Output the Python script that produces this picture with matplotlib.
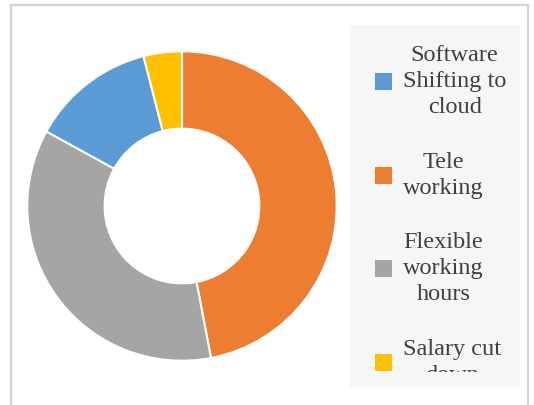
"""Donut chart of workplace responses, with a side legend panel."""

import matplotlib
matplotlib.use("Agg")
import matplotlib.pyplot as plt
from matplotlib.patches import Rectangle
from matplotlib.transforms import Bbox, TransformedBbox

# Legend order
categories = [
    "Software\nShifting to\ncloud",
    "Tele\nworking",
    "Flexible\nworking\nhours",
    "Salary cut\ndown",
]
shares = [13, 47, 36, 4]
colors = ["#5B9BD5", "#ED7D31", "#A5A5A5", "#FFC000"]
# Slice order going clockwise from 12 o'clock
draw_order = [1, 2, 0, 3]

W, H = 534, 405
TEXT = "#404040"

plt.rcParams.update({"font.family": ["Liberation Serif", "DejaVu Serif"]})

fig = plt.figure(figsize=(W / 100, H / 100), dpi=100)
fig.patch.set_facecolor("white")

# chart area border (bottom edge runs past the canvas)
fig.patches.append(Rectangle((10.5 / W, -0.05), 517 / W, (H - 5) / H + 0.05,
                             transform=fig.transFigure, fill=False,
                             edgecolor="#d4d4d4", linewidth=1.6))

# donut
cx, cy, r = 182, 206, 155.5
ax = fig.add_axes([(cx - r) / W, (H - cy - r) / H, 2 * r / W, 2 * r / H])
ax.pie([shares[i] for i in draw_order],
       colors=[colors[i] for i in draw_order],
       startangle=90, counterclock=False, radius=1.0,
       wedgeprops=dict(width=0.5, edgecolor="white", linewidth=1.5))
ax.set_xlim(-1.005, 1.005)
ax.set_ylim(-1.005, 1.005)
ax.set_aspect("equal")
ax.axis("off")

# legend panel, in pixel-like coordinates
lx0, lx1, ly0, ly1 = 350, 520, 25, 387
lax = fig.add_axes([lx0 / W, (H - ly1) / H, (lx1 - lx0) / W, (ly1 - ly0) / H])
lax.set_xlim(lx0, lx1)
lax.set_ylim(ly1, ly0)
lax.set_facecolor("#f6f6f6")
for s in lax.spines.values():
    s.set_visible(False)
lax.set_xticks([])
lax.set_yticks([])

# entries overflow the inner legend area and get cut off
clip = TransformedBbox(Bbox([[lx0, ly0], [lx1, 372]]), lax.transData)

row_y = [81, 175, 268, 362]
for label, color, y in zip(categories, colors, row_y):
    lax.add_patch(Rectangle((375, y - 8.5), 17, 17, facecolor=color, edgecolor="none"))
    t = lax.text(403, y + 0.5, label, ha="left", va="center", multialignment="center",
                 fontsize=17.5, color=TEXT, linespacing=1.32, clip_on=True)
    t.set_clip_box(clip)

fig.savefig("out.png", dpi=100)
